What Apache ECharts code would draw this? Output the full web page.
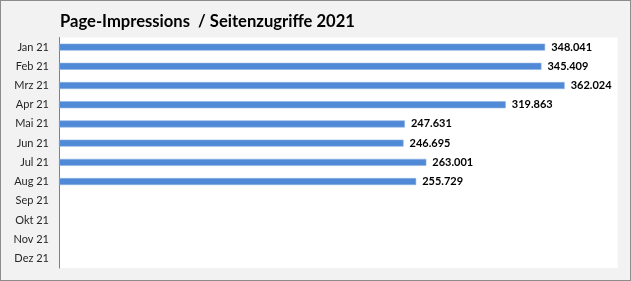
<!DOCTYPE html>
<html>
<head>
<meta charset="utf-8">
<script src="https://cdn.jsdelivr.net/npm/echarts@6/dist/echarts.min.js"></script>
<style>
html, body { margin: 0; padding: 0; background: #f2f2f2; }
#chart { width: 629px; height: 279px; border: 1px solid #8c8c8c; background: #f2f2f2; }
</style>
</head>
<body>
<div id="chart"></div>
<script>
var titleText = "Page-Impressions  / Seitenzugriffe 2021";
var months = ["Jan 21", "Feb 21", "Mrz 21", "Apr 21", "Mai 21", "Jun 21",
	"Jul 21", "Aug 21", "Sep 21", "Okt 21", "Nov 21", "Dez 21"];
var impressions = [348041, 345409, 362024, 319863, 247631, 246695,
	263001, 255729, null, null, null, null];

// 348041 -> "348.041"
function formatDe(v) {
	return String(v).replace(/\B(?=(\d{3})+(?!\d))/g, ".");
}

var chart = echarts.init(document.getElementById("chart"));
var option = {
	backgroundColor: "#f2f2f2",
	animation: false,
	title: {
		text: titleText,
		left: 59,
		top: 12,
		padding: 0,
		textStyle: {
			fontFamily: "Lato",
			fontWeight: "bold",
			fontSize: 16.6,
			color: "#000"
		}
	},
	grid: {
		left: 58,
		top: 36.5,
		right: 12.3,
		bottom: 12,
		show: true,
		backgroundColor: "#fff",
		borderWidth: 0
	},
	xAxis: {
		type: "value",
		min: 0,
		max: 400000,
		show: false
	},
	yAxis: {
		type: "category",
		data: months,
		inverse: true,
		axisLine: { show: true, lineStyle: { color: "#7f7f7f", width: 1 } },
		axisTick: { show: false },
		axisLabel: {
			margin: 10,
			fontFamily: "Lato",
			fontSize: 11,
			color: "#262626"
		}
	},
	series: [{
		type: "bar",
		data: impressions,
		barWidth: 7,
		itemStyle: {
			color: "#5089d6",
			borderColor: "#8db4e3",
			borderWidth: 0.6
		},
		label: {
			show: true,
			position: "right",
			distance: 6,
			fontFamily: "Lato",
			fontWeight: "bold",
			fontSize: 11,
			color: "#000",
			formatter: function(p) {
				return p.value == null ? "" : formatDe(p.value);
			}
		}
	}]
};
chart.setOption(option);
</script>
</body>
</html>
